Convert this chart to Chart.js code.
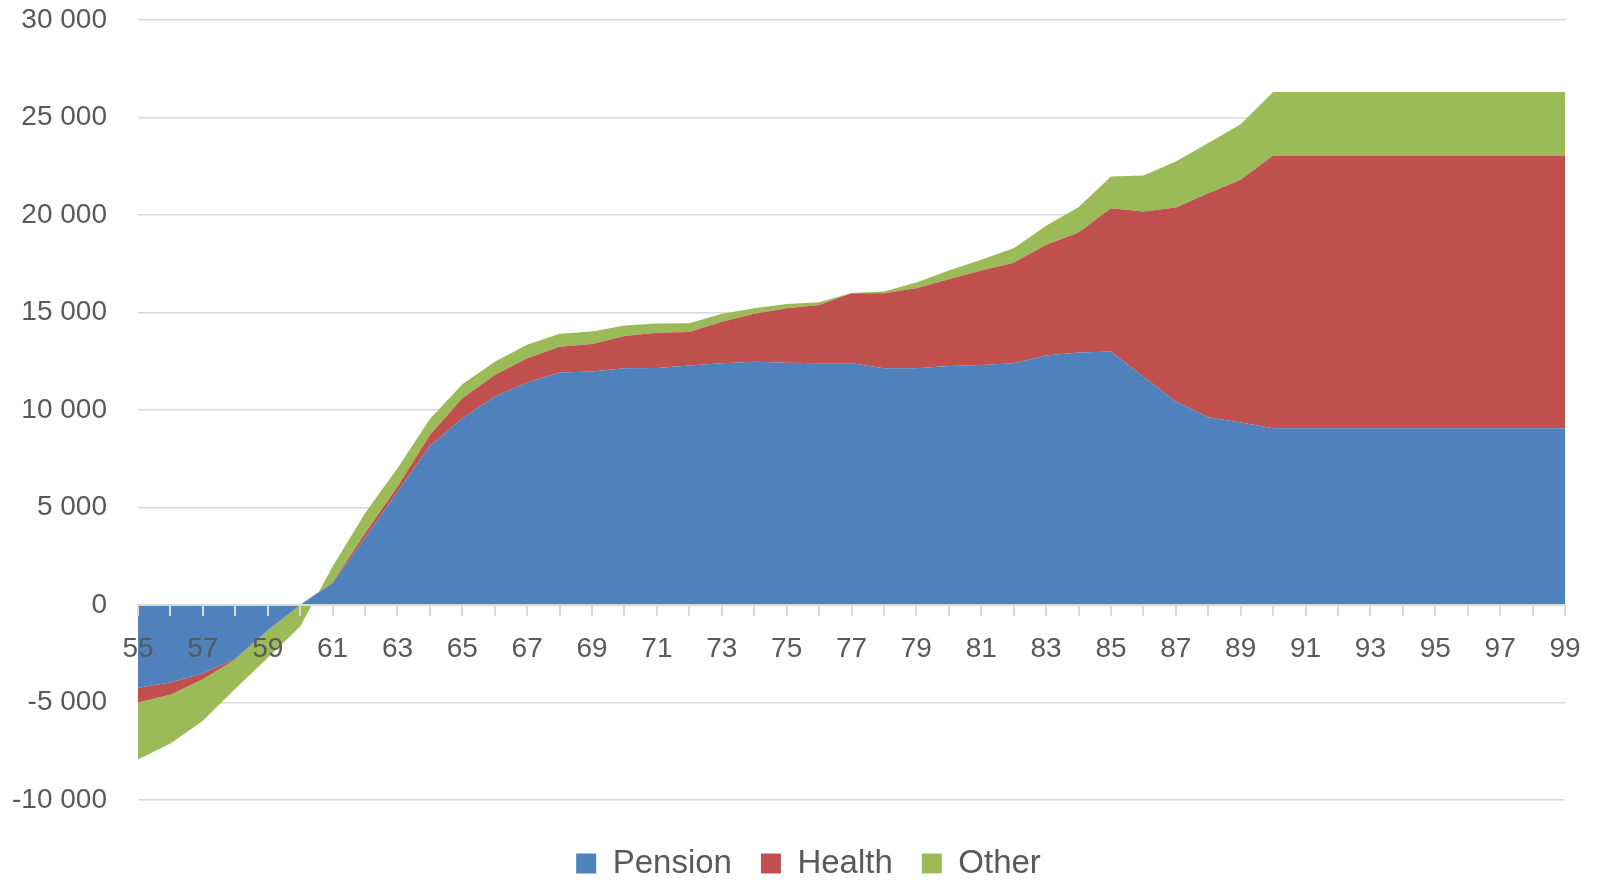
<!DOCTYPE html>
<html>
<head>
<meta charset="utf-8">
<script src="https://cdn.jsdelivr.net/npm/chart.js@4.4.1/dist/chart.umd.min.js"></script>
<style>
  html, body { margin: 0; padding: 0; background: #fff; }
  #wrap { width: 1598px; height: 880px; position: relative; }
</style>
</head>
<body>
<div id="wrap"><canvas id="chart"></canvas></div>
<script>
// ages on the x axis
const ages = [];
for (let a = 55; a <= 99; a++) ages.push(String(a));

const pension = [
  -4240, -3970, -3500, -2750, -1300, 0, 1110, 3450, 5810, 8160,
  9580, 10690, 11410, 11920, 11970, 12140, 12160, 12280, 12400, 12470,
  12420, 12400, 12400, 12140, 12140, 12260, 12310, 12400, 12800, 12950,
  13000, 11710, 10430, 9630, 9360, 9060, 9060, 9060, 9060, 9060,
  9060, 9060, 9060, 9060, 9060
];

const health = [
  -760, -630, -310, -50, 0, 0, 40, 230, 260, 560,
  1020, 1110, 1250, 1330, 1420, 1660, 1800, 1720, 2130, 2460,
  2800, 2990, 3590, 3850, 4110, 4450, 4840, 5150, 5670, 6150,
  7350, 8470, 9960, 11490, 12450, 13990, 13990, 13990, 13990, 13990,
  13990, 13990, 13990, 13990, 13990
];

const other = [
  -2920, -2500, -2130, -1500, -1400, -1100, 820, 1020, 940, 820,
  720, 680, 680, 660, 630, 530, 470, 450, 400, 290,
  220, 140, 10, 90, 290, 440, 550, 750, 980, 1300,
  1630, 1850, 2360, 2570, 2850, 3260, 3260, 3260, 3260, 3260,
  3260, 3260, 3260, 3260, 3260
];

const seriesNames = ['Pension', 'Health', 'Other'];
const seriesColors = ['#4F81BD', '#C0504D', '#9BBB59'];

const textColor = '#595959';
const gridColor = '#d9d9d9';
const fontFamily = '"Liberation Sans", Arial, sans-serif';

function fmt(v) {
  const s = String(Math.abs(v)).replace(/\B(?=(\d{3})+(?!\d))/g, ' ');
  return (v < 0 ? '-' : '') + s;
}

const values = [pension, health, other];
const datasets = values.map((data, i) => ({
  label: seriesNames[i],
  data: data,
  backgroundColor: seriesColors[i],
  borderColor: seriesColors[i],
  borderWidth: 0,
  pointRadius: 0,
  tension: 0,
  fill: i === 0 ? 'origin' : '-1',
}));

// the legend sits a bit right of the page centre in the original
const legendShift = {
  id: 'legendShift',
  afterLayout(chart) {
    if (chart.legend) {
      chart.legend.left += 26;
      chart.legend.right += 26;
    }
  },
};

new Chart(document.getElementById('chart'), {
  type: 'line',
  data: { labels: ages, datasets: datasets },
  plugins: [legendShift],
  options: {
    responsive: true,
    maintainAspectRatio: false,
    animation: false,
    layout: { padding: { top: 20, right: 33, left: 0, bottom: -10 } },
    plugins: {
      tooltip: { enabled: false },
      legend: {
        position: 'bottom',
        title: { display: true, text: '', padding: 0, font: { size: 15 } },
        labels: {
          color: textColor,
          font: { family: fontFamily, size: 33 },
          boxWidth: 20,
          boxHeight: 20,
          padding: 29,
        },
      },
    },
    scales: {
      x: {
        position: { y: 0 },
        offset: false,
        grid: {
          z: 1,
          drawOnChartArea: false,
          drawTicks: true,
          tickLength: 10,
          color: gridColor,
          lineWidth: 2,
        },
        border: { display: true, color: gridColor, width: 2, z: 1 },
        ticks: {
          z: 1,
          autoSkip: false,
          maxRotation: 0,
          color: textColor,
          font: { family: fontFamily, size: 28 },
          padding: 17,
          callback: function (val, idx) {
            return idx % 2 === 0 ? this.getLabelForValue(val) : '';
          },
        },
      },
      y: {
        stacked: 'single',
        min: -10000,
        max: 30000,
        grid: { color: gridColor, lineWidth: 1.5, drawTicks: false },
        border: { display: false },
        ticks: {
          stepSize: 5000,
          color: textColor,
          font: { family: fontFamily, size: 28 },
          padding: 31,
          callback: (v) => fmt(v),
        },
        afterFit: (scale) => {
          scale.width = 138;
          scale.paddingTop = 0;
          scale.paddingBottom = 0;
        },
      },
    },
  },
});
</script>
</body>
</html>
